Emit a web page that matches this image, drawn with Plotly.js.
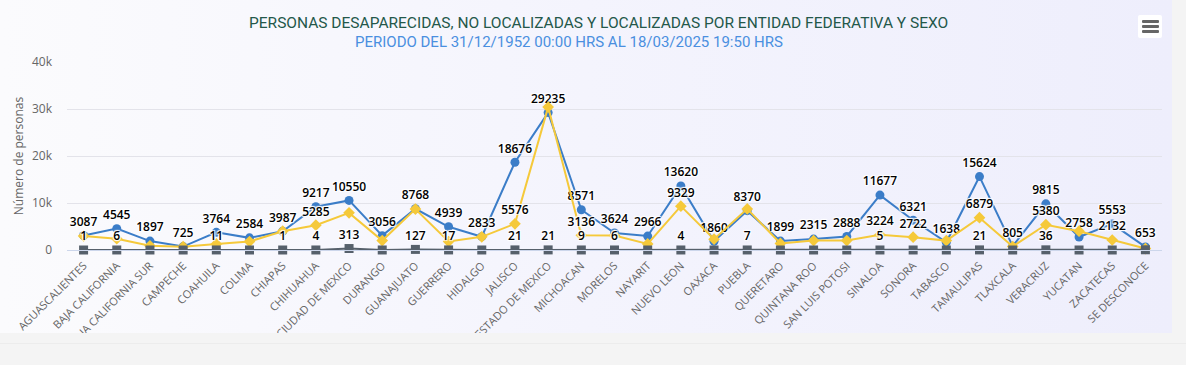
<!DOCTYPE html>
<html>
<head>
<meta charset="utf-8">
<script src="https://cdn.plot.ly/plotly-3.0.1.min.js"></script>
<style>
  html, body { margin: 0; padding: 0; background: #f4f4f4; width: 1186px; height: 365px; overflow: hidden; }
  #wrap { position: absolute; left: 0; top: 0; width: 1172px; height: 333px;
          background: linear-gradient(90deg, #fbfbfd 0%, #f4f4fd 50%, #eeeefc 100%); }
  #chart { position: absolute; left: 0; top: 0; width: 1172px; height: 333px; }
  #sep { position: absolute; left: 0; top: 343px; width: 1186px; height: 1px; background: #ececec; }
  #menu { position: absolute; left: 1138px; top: 15px; width: 24px; height: 23px; background: #ffffff; border-radius: 2px; }
  #menu div { position: absolute; left: 4px; width: 17px; height: 3px; background: #666666; border-radius: 1px; }
</style>
</head>
<body>
<div id="wrap"><div id="chart"></div></div>
<div id="sep"></div>
<div id="menu"><div style="top:5px"></div><div style="top:10px"></div><div style="top:15px"></div></div>
<script>
// ---- data ----
const categories = ["AGUASCALIENTES","BAJA CALIFORNIA","BAJA CALIFORNIA SUR","CAMPECHE","COAHUILA","COLIMA","CHIAPAS","CHIHUAHUA","CIUDAD DE MEXICO","DURANGO","GUANAJUATO","GUERRERO","HIDALGO","JALISCO","ESTADO DE MEXICO","MICHOACAN","MORELOS","NAYARIT","NUEVO LEON","OAXACA","PUEBLA","QUERETARO","QUINTANA ROO","SAN LUIS POTOSI","SINALOA","SONORA","TABASCO","TAMAULIPAS","TLAXCALA","VERACRUZ","YUCATAN","ZACATECAS","SE DESCONOCE"];
const hombres = [3087,4545,1897,725,3764,2584,3987,9217,10550,3056,8768,4939,2833,18676,29235,8571,3624,2966,13620,1860,8370,1899,2315,2888,11677,6321,1638,15624,805,9815,2758,5553,653];
const mujeres = [3000,2400,900,700,1300,1800,4000,5285,7900,2000,8700,1800,2800,5576,30400,3136,3100,1300,9329,2300,8750,1400,2000,2000,3224,2722,2000,6879,750,5380,4000,2132,300];
const indeterminado = [1,6,2,1,11,3,1,4,313,5,127,17,4,21,21,9,6,3,4,2,7,3,2,2,5,4,2,21,1,36,2,3,50];
// which data labels are visible (others are hidden by overlap in the original)
const hombresLabels = hombres.map(v => String(v));
const mujeresShown = [7,13,15,18,24,25,27,29,31];
const mujeresLabels = mujeres.map((v,i) => mujeresShown.includes(i) ? String(v) : "");
const indetShown = [0,1,4,6,7,8,10,11,13,14,15,16,18,20,24,27,29];
const indetLabels = indeterminado.map((v,i) => indetShown.includes(i) ? String(v) : "");

const labelFont = {family: "Open Sans", size: 12, color: "#000000", weight: 600,
                   shadow: "1px 1px 1px #fff, -1px -1px 1px #fff, 1px -1px 1px #fff, -1px 1px 1px #fff"};

const traces = [
  {x: categories, y: hombres, text: hombresLabels, name: "Hombres", type: "scatter",
   mode: "lines+markers+text", textposition: "top center", textfont: labelFont, cliponaxis: false,
   line: {color: "#3b7dc8", width: 2}, marker: {color: "#3b7dc8", size: 9, symbol: "circle"}},
  {x: categories, y: mujeres, text: mujeresLabels, name: "Mujeres", type: "scatter",
   mode: "lines+markers+text", textposition: "top center", textfont: labelFont, cliponaxis: false,
   line: {color: "#f5c93a", width: 2}, marker: {color: "#f5c93a", size: 9, symbol: "diamond"}},
  {x: categories, y: indeterminado, text: indetLabels, name: "Indeterminado", type: "scatter",
   mode: "lines+markers+text", textposition: "top center", textfont: labelFont, cliponaxis: false,
   line: {color: "#56606b", width: 2}, marker: {color: "#56606b", size: 9, symbol: "square"}}
];

const layout = {
  width: 1172, height: 333,
  margin: {l: 67, r: 10, t: 62, b: 83, pad: 0},
  paper_bgcolor: "rgba(0,0,0,0)", plot_bgcolor: "rgba(0,0,0,0)",
  showlegend: false,
  font: {family: "Open Sans", color: "#666666"},
  xaxis: {type: "category", range: [-0.5, 32.5], tickangle: -45, showgrid: false,
          tickfont: {family: "Open Sans", size: 11, color: "#666666"}, ticklabelstandoff: 4,
          showline: true, linecolor: "#ccd6eb", linewidth: 1, ticks: "", zeroline: false, fixedrange: true},
  yaxis: {range: [0, 40000], dtick: 10000, tickformat: "~s", showgrid: true, gridcolor: "#e3e3ea", gridwidth: 1,
          zeroline: false, showline: false, ticks: "", ticklabelstandoff: 14,
          tickfont: {family: "Open Sans", size: 12, color: "#666666"},
          title: {text: "Número de personas", font: {family: "Open Sans", size: 12, color: "#666666"}, standoff: 5},
          fixedrange: true},
  annotations: [
    {xref: "paper", yref: "paper", x: (598 - 67) / 1095, y: 1, yshift: 39, xanchor: "center", yanchor: "middle", showarrow: false,
     text: "PERSONAS DESAPARECIDAS, NO LOCALIZADAS Y LOCALIZADAS POR ENTIDAD FEDERATIVA Y SEXO",
     font: {family: "Roboto", size: 15.5, color: "#24584a", weight: 400}},
    {xref: "paper", yref: "paper", x: (569 - 67) / 1095, y: 1, yshift: 20, xanchor: "center", yanchor: "middle", showarrow: false,
     text: "PERIODO DEL 31/12/1952 00:00 HRS AL 18/03/2025 19:50 HRS",
     font: {family: "Roboto", size: 15, color: "#4a8fe0", weight: 400}}
  ]
};

Plotly.newPlot("chart", traces, layout, {displayModeBar: false, staticPlot: true});
</script>
</body>
</html>
